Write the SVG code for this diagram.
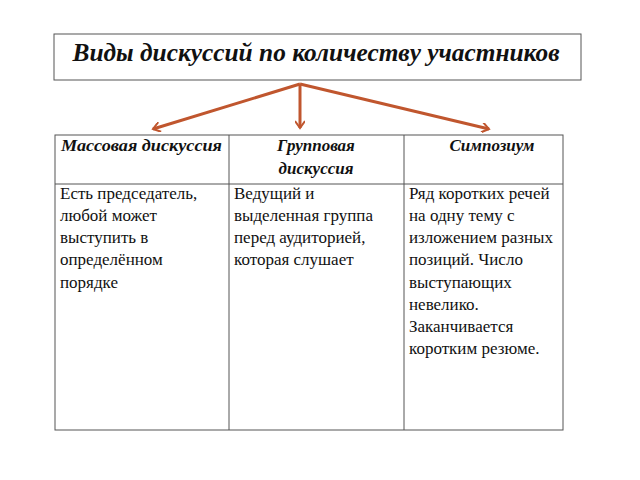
<svg xmlns="http://www.w3.org/2000/svg" width="640" height="480" viewBox="0 0 640 480">
<style>
.b{fill:none;stroke:#555;stroke-width:1}
.h{font-family:"Liberation Serif",serif;font-style:italic;font-weight:bold;font-size:17px;fill:#111}
.t{font-family:"Liberation Serif",serif;font-size:17px;fill:#111}
.a{stroke:#c0562e;stroke-width:3;fill:none}
</style>
<defs><marker id="m" markerWidth="10" markerHeight="10" refX="8" refY="5" orient="auto" markerUnits="userSpaceOnUse"><path d="M1,0 L8,5 L1,10" fill="none" stroke="#c0562e" stroke-width="2"/></marker></defs>
<rect width="640" height="480" fill="#fff"/>
<g id="title"><rect class="b" x="54" y="34" width="527" height="46"/>
<text x="316" y="61" text-anchor="middle" class="h" style="font-size:25px" textLength="487" lengthAdjust="spacingAndGlyphs">Виды дискуссий по количеству участников</text></g>
<g id="connectors">
<line class="a" x1="300" y1="84" x2="153" y2="129" marker-end="url(#m)"/>
<line class="a" x1="300" y1="84" x2="300" y2="128" marker-end="url(#m)"/>
<line class="a" x1="300" y1="84" x2="489" y2="129" marker-end="url(#m)"/>
</g>
<g id="table"><rect class="b" x="55" y="135" width="508" height="295"/>
<line class="b" x1="229" y1="135" x2="229" y2="430"/><line class="b" x1="404" y1="135" x2="404" y2="430"/>
<line class="b" x1="55" y1="184" x2="563" y2="184"/></g>
<g id="col1"><text class="h" x="61" y="151" textLength="161" lengthAdjust="spacingAndGlyphs">Массовая дискуссия</text>
<text class="t"><tspan x="60" y="199">Есть председатель,</tspan><tspan x="60" y="221">любой может</tspan><tspan x="60" y="243">выступить в</tspan><tspan x="60" y="265">определённом</tspan><tspan x="60" y="288">порядке</tspan></text></g>
<g id="col2"><text class="h" text-anchor="middle"><tspan x="316" y="151">Групповая</tspan><tspan x="316" y="174">дискуссия</tspan></text>
<text class="t"><tspan x="234" y="199">Ведущий и</tspan><tspan x="234" y="221">выделенная группа</tspan><tspan x="234" y="243">перед аудиторией,</tspan><tspan x="234" y="265">которая слушает</tspan></text></g>
<g id="col3"><text class="h" x="492" y="151" text-anchor="middle">Симпозиум</text>
<text class="t"><tspan x="409" y="199">Ряд коротких речей</tspan><tspan x="409" y="221">на одну тему с</tspan><tspan x="409" y="243">изложением разных</tspan><tspan x="409" y="265">позиций. Число</tspan><tspan x="409" y="288">выступающих</tspan><tspan x="409" y="310">невелико.</tspan><tspan x="409" y="332">Заканчивается</tspan><tspan x="409" y="354">коротким резюме.</tspan></text></g>
</svg>
